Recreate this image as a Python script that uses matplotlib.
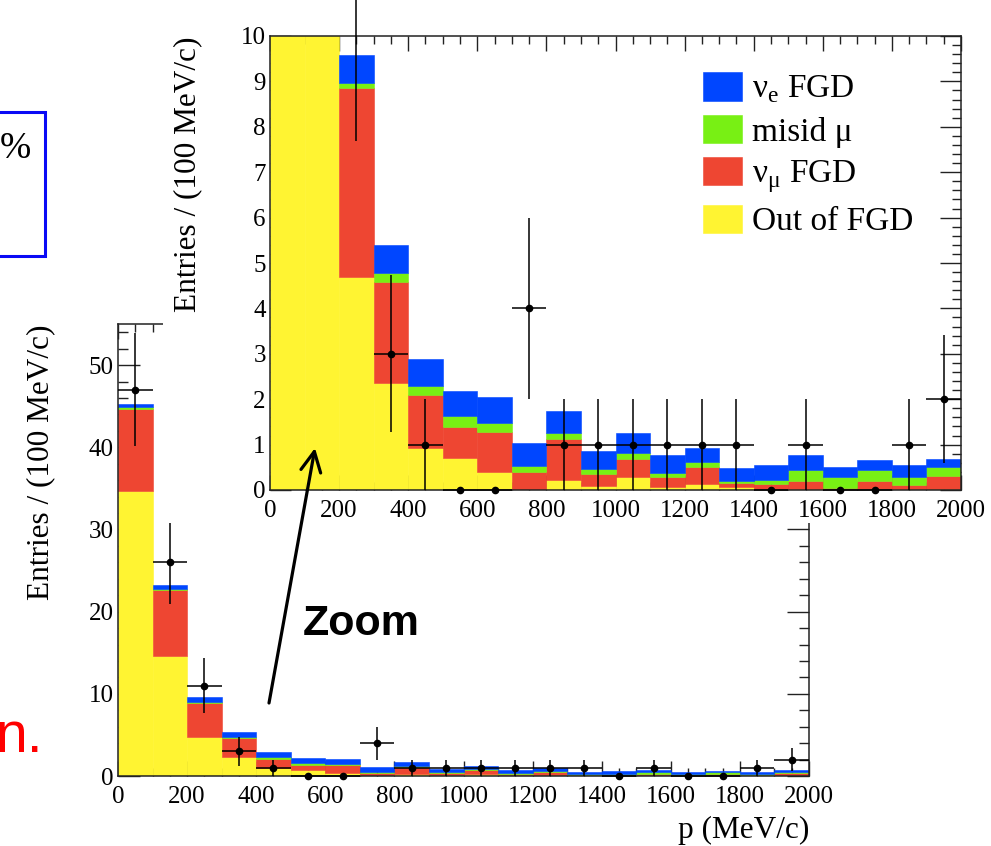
import numpy as np
import matplotlib
matplotlib.use('Agg')
import matplotlib.pyplot as plt
from matplotlib.patches import Rectangle, FancyArrowPatch
from matplotlib.ticker import MultipleLocator

plt.rcParams['font.family'] = ['Liberation Serif', 'DejaVu Serif']
plt.rcParams['mathtext.fontset'] = 'custom'
plt.rcParams['mathtext.rm'] = 'Liberation Serif'

# momentum bins, 100 MeV/c wide, 0 - 2000
bin_lo = np.arange(0, 2000, 100)

# stacked MC components (entries per bin)
out_fgd  = [34.7, 14.55, 4.70, 2.35, 0.92, 0.70, 0.40, 0.01, 0.23, 0.09,
            0.29, 0.07, 0.13, 0.06, 0.03, 0.03, 0.0, 0.01, 0.02, 0.02]
numu_fgd = [10.0, 8.05, 4.16, 2.24, 1.17, 0.68, 0.88, 0.39, 0.89, 0.26,
            0.39, 0.21, 0.38, 0.09, 0.10, 0.17, 0.04, 0.19, 0.09, 0.29]
misid_mu = [0.15, 0.10, 0.11, 0.18, 0.21, 0.24, 0.19, 0.13, 0.13, 0.11,
            0.13, 0.09, 0.11, 0.05, 0.09, 0.24, 0.24, 0.23, 0.17, 0.19]
nue_fgd  = [0.45, 0.50, 0.61, 0.63, 0.59, 0.55, 0.57, 0.51, 0.50, 0.41,
            0.44, 0.40, 0.30, 0.28, 0.33, 0.33, 0.23, 0.23, 0.26, 0.18]
# data
data = [47, 26, 11, 3, 1, 0, 0, 4, 1, 1, 1, 1, 1, 1, 0, 1, 0, 0, 1, 2]

c_yellow = '#fff432'
c_red = '#ee4632'
c_green = '#78f014'
c_blue = '#0046ff'

W, H = 991, 846
def fx(x):
    return x / W
def fy(y):
    return 1 - y / H


def draw_hist(ax):
    bottom = np.zeros(len(bin_lo))
    bars = {}
    for vals, col, name in [(out_fgd, c_yellow, 'Out of FGD'),
                            (numu_fgd, c_red, r'ν$_\mathregular{\mu}$ FGD'),
                            (misid_mu, c_green, 'misid μ'),
                            (nue_fgd, c_blue, r'ν$_\mathregular{e}$ FGD')]:
        vals = np.array(vals)
        bars[name] = ax.bar(bin_lo, vals, width=100, bottom=bottom, align='edge',
                            color=col, edgecolor=col, linewidth=0.4, label=name)
        bottom += vals
    d = np.array(data, dtype=float)
    ax.errorbar(bin_lo + 50, d, xerr=50, yerr=np.sqrt(d), fmt='o', color='k',
                ms=4.5, elinewidth=1.1, capsize=0, clip_on=False, zorder=5)
    return bars


def style(ax, ymaj, ymin, ylen, ymlen):
    ax.set_xlim(0, 2000)
    ax.set_axisbelow(True)
    ax.xaxis.set_major_locator(MultipleLocator(200))
    ax.xaxis.set_minor_locator(MultipleLocator(50))
    ax.yaxis.set_major_locator(MultipleLocator(ymaj))
    ax.yaxis.set_minor_locator(MultipleLocator(ymin))
    ax.tick_params(which='both', direction='in', top=True, right=True,
                   width=1.0, color='#222222', labelsize=18)
    ax.tick_params(axis='x', which='major', length=10.8, pad=7)
    ax.tick_params(axis='x', which='minor', length=5.8)
    ax.tick_params(axis='y', which='major', length=ylen, pad=3)
    ax.tick_params(axis='y', which='minor', length=ymlen)
    for s in ax.spines.values():
        s.set_linewidth(1.1)
        s.set_color('#222222')


fig = plt.figure(figsize=(9.91, 8.46), dpi=100)

# full-range plot
ax = fig.add_axes([fx(118), fy(776), (809 - 118) / W, (776 - 324) / H])
ax.set_zorder(0)
draw_hist(ax)
style(ax, 10, 2, 16, 7)
ax.set_ylim(0, 55)
ax.set_ylabel('Entries / (100 MeV/c)', fontsize=22.5, loc='top', labelpad=24)
ax.set_xlabel('p (MeV/c)', fontsize=22.5, loc='right', labelpad=6)

# white backing of the zoomed picture
fig.add_artist(Rectangle((fx(163), fy(523)), 1 - fx(163), 1 - fy(523) + 0.01,
                         transform=fig.transFigure, facecolor='white',
                         edgecolor='none', zorder=1))

# zoomed plot
axi = fig.add_axes([fx(270), fy(490), (961 - 270) / W, (490 - 36) / H])
axi.set_zorder(2)
bars = draw_hist(axi)
style(axi, 1, 0.2, 15, 6.5)
axi.set_ylim(0, 10)
axi.set_ylabel('Entries / (100 MeV/c)', fontsize=22.5, loc='top', labelpad=28)
order = [r'ν$_\mathregular{e}$ FGD', 'misid μ', r'ν$_\mathregular{\mu}$ FGD', 'Out of FGD']
axi.legend([bars[k] for k in order], order, loc='upper left',
           bbox_to_anchor=(fx(703), fy(72)), bbox_transform=fig.transFigure,
           frameon=False, fontsize=24, handlelength=1.18, handleheight=0.94,
           handletextpad=0.3, labelspacing=0.28, borderpad=0, borderaxespad=0)

# slide annotations
arrow = FancyArrowPatch(posA=(fx(269), fy(703)), posB=(fx(315), fy(448)),
                        transform=fig.transFigure,
                        arrowstyle='->,head_length=0.4,head_width=0.2',
                        mutation_scale=36, lw=2.3, color='k',
                        shrinkA=0, shrinkB=0, zorder=4)
fig.add_artist(arrow)
fig.text(fx(303), fy(635), 'Zoom', fontsize=31, fontweight='bold',
         family='Liberation Sans', va='baseline', zorder=4)
fig.text(fx(-5), fy(752), 'n.', fontsize=41, color='red',
         family='Liberation Sans', va='baseline', zorder=4)
fig.add_artist(Rectangle((fx(-10), fy(256)), 55 / W, (256 - 112) / H,
                         transform=fig.transFigure, fill=False,
                         edgecolor='#0a0af5', lw=2.2, zorder=4))
fig.text(fx(31), fy(158), '%', fontsize=27, ha='right', va='baseline', zorder=4)

fig.savefig('out.png', dpi=100)
